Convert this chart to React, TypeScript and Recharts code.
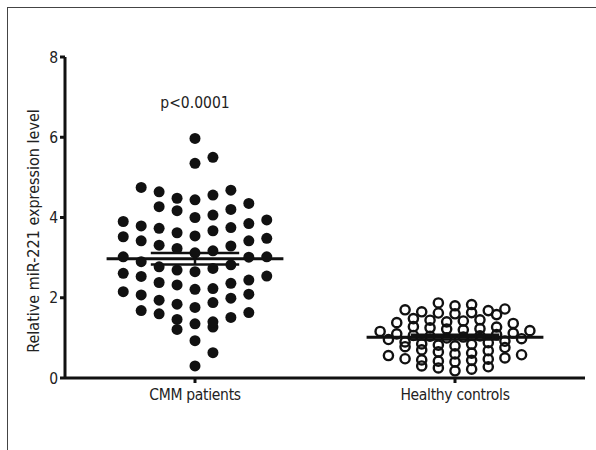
import React from 'react';
import {
  ScatterChart,
  Scatter,
  XAxis,
  YAxis,
  ReferenceLine,
  ReferenceDot,
} from 'recharts';

// group names on the x axis
const groups = ['CMM patients', 'Healthy controls'];

// relative miR-221 expression
const cmmValues = [
  5.97, 5.5, 5.35,
  4.75, 4.68, 4.64, 4.56, 4.48, 4.44, 4.35, 4.27, 4.2, 4.17, 4.06, 4.0,
  3.94, 3.9, 3.85, 3.79, 3.75, 3.73, 3.67, 3.62, 3.54,
  3.52, 3.48, 3.42, 3.42, 3.31, 3.29, 3.23, 3.17, 3.12,
  3.02, 3.02, 3.01, 2.9, 2.82, 2.77, 2.73, 2.69, 2.65,
  2.61, 2.54, 2.53, 2.44, 2.38, 2.36, 2.32, 2.23, 2.21,
  2.15, 2.09, 2.07, 1.99, 1.94, 1.88, 1.84, 1.76,
  1.68, 1.63, 1.6, 1.51, 1.46, 1.4, 1.35,
  1.27, 1.21, 0.93, 0.63, 0.3,
];

const healthyValues = [
  1.8, 1.87, 1.83,
  1.72, 1.68, 1.62, 1.6, 1.58, 1.65, 1.7, 1.63,
  1.48, 1.42, 1.38, 1.45, 1.4, 1.36, 1.44,
  1.28, 1.22, 1.18, 1.25, 1.2, 1.16, 1.27, 1.23,
  1.1, 1.05, 1.02, 0.98, 1.08, 1.0, 0.96, 1.12, 1.04, 1.06,
  0.9, 0.85, 0.82, 0.78, 0.88, 0.8, 0.76, 0.92, 0.84,
  0.68, 0.62, 0.58, 0.65, 0.6, 0.56, 0.7,
  0.48, 0.45, 0.42, 0.5, 0.44, 0.47, 0.4,
  0.28, 0.22, 0.18, 0.25, 0.3,
];

const yTicks = [0, 2, 4, 6, 8];
const pLabel = 'p<0.0001';
const yLabel = 'Relative miR-221 expression level';

const FONT = '"DejaVu Sans Condensed", "Liberation Sans Narrow", "Open Sans", sans-serif';
const INK = '#111';
const TEXT = '#222';

// Prism-style column scatter: rows start at the lowest remaining value and
// take everything within rowH of it; each row spreads out from the centre,
// first neighbour going right on even rows and left on odd ones
function swarm(values: number[], center: number, rowH: number, step: number, half: boolean) {
  const sorted = [...values].sort((a, b) => a - b);
  const out: { x: number; y: number }[] = [];
  let i = 0;
  let rowIdx = 0;
  while (i < sorted.length) {
    const start = sorted[i];
    const row: number[] = [];
    while (i < sorted.length && sorted[i] < start + rowH - 1e-9) row.push(sorted[i++]);
    const n = row.length;
    const s = rowIdx % 2 === 0 ? 1 : -1;
    row.forEach((v, j) => {
      let slot: number;
      if (half && n % 2 === 0) slot = (j % 2 === 0 ? -s : s) * (Math.floor(j / 2) + 0.5);
      else slot = j === 0 ? 0 : j % 2 === 1 ? (s * (j + 1)) / 2 : (-s * j) / 2;
      out.push({ x: center + slot * step, y: v });
    });
    rowIdx++;
  }
  return out;
}

function meanSem(values: number[]) {
  const n = values.length;
  const mean = values.reduce((a, b) => a + b, 0) / n;
  const sd = Math.sqrt(values.reduce((a, b) => a + (b - mean) ** 2, 0) / (n - 1));
  return { mean, sem: sd / Math.sqrt(n) };
}

const cmmPoints = swarm(cmmValues, 0, 0.41, 0.069, false);
const healthyPoints = swarm(healthyValues, 1, 0.2, 0.064, true);

const FilledDot = (props: any) => (
  <circle cx={props.cx} cy={props.cy} r={5.5} fill={INK} />
);
const OpenDot = (props: any) => (
  <circle cx={props.cx} cy={props.cy} r={4.6} fill="none" stroke={INK} strokeWidth={2.4} />
);

const MeanBars = (center: number, values: number[]) => {
  const { mean, sem } = meanSem(values);
  const seg = (x1: number, y1: number, x2: number, y2: number, w: number, key: string) => (
    <ReferenceLine
      key={key}
      segment={[{ x: x1, y: y1 }, { x: x2, y: y2 }]}
      stroke={INK}
      strokeWidth={w}
    />
  );
  return [
    seg(center - 0.34, mean, center + 0.34, mean, 3, `m${center}`),
    seg(center, mean - sem, center, mean + sem, 2.5, `v${center}`),
    seg(center - 0.17, mean + sem, center + 0.17, mean + sem, 2.5, `u${center}`),
    seg(center - 0.17, mean - sem, center + 0.17, mean - sem, 2.5, `l${center}`),
  ];
};

const tickStyle = { fill: TEXT, fontSize: 15.5, fontFamily: FONT, letterSpacing: -0.3 };

const App: React.FC = () => {
  return (
    <>
      <style>{'body{margin:7px 0 0 7px;background:#fff}'}</style>
      <div
        style={{
          width: 588,
          height: 443,
          borderLeft: '1px solid #444',
          borderTop: '1px solid #444',
        }}
      >
        <ScatterChart
          width={588}
          height={442}
          margin={{ top: 49, right: 11, bottom: 30, left: 17 }}
        >
          <XAxis
            type="number"
            dataKey="x"
            domain={[-0.5, 1.5]}
            ticks={[0, 1]}
            allowDataOverflow
            tickFormatter={(v) => groups[v] ?? ''}
            stroke={INK}
            strokeWidth={3}
            tickSize={5}
            tickLine={{ stroke: INK, strokeWidth: 3 }}
            tick={tickStyle}
            height={42}
            tickMargin={6}
          />
          <YAxis
            type="number"
            dataKey="y"
            domain={[0, 8]}
            ticks={yTicks}
            allowDataOverflow
            stroke={INK}
            strokeWidth={3}
            tickSize={5}
            tickLine={{ stroke: INK, strokeWidth: 3 }}
            tick={{ ...tickStyle, letterSpacing: 0 }}
            width={40}
            tickMargin={2}
            label={{
              content: () => (
                <text
                  x={0}
                  y={0}
                  transform="translate(31, 223) rotate(-90)"
                  textAnchor="middle"
                  fill={TEXT}
                  fontSize={16}
                  fontFamily={FONT}
                >
                  {yLabel}
                </text>
              ),
            }}
          />
          <Scatter data={cmmPoints} shape={FilledDot} isAnimationActive={false} />
          <Scatter data={healthyPoints} shape={OpenDot} isAnimationActive={false} />
          {MeanBars(0, cmmValues)}
          {MeanBars(1, healthyValues)}
          <ReferenceDot
            x={0}
            y={6.86}
            r={1}
            fill="none"
            stroke="none"
            label={{ value: pLabel, position: 'center', fill: TEXT, fontSize: 15.5, fontFamily: FONT }}
          />
        </ScatterChart>
      </div>
    </>
  );
};

export default App;
